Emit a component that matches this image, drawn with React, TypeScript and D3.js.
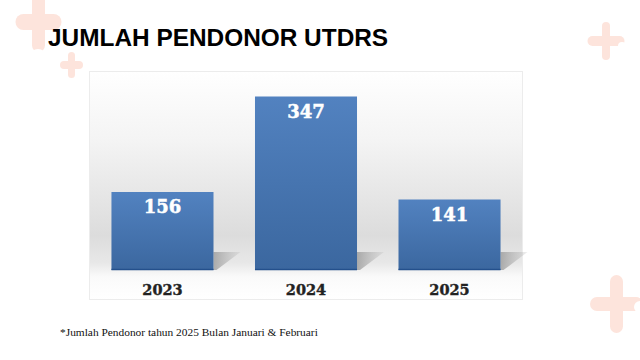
import React from "react";
import * as d3 from "d3";

const years = ["2023", "2024", "2025"];
const donors = [156, 347, 141];
const title = "JUMLAH PENDONOR UTDRS";
const footnote = "*Jumlah Pendonor tahun 2025 Bulan Januari & Februari";

const W = 640;
const H = 360;
const box = { x: 89.5, y: 71.5, w: 433, h: 228 };
const baseY = 270;

export default function App() {
  const x = d3
    .scaleBand<string>()
    .domain(years)
    .range([box.x, box.x + box.w])
    .paddingInner(0.289)
    .paddingOuter(0.153);
  const y = d3.scaleLinear().domain([0, 400]).range([baseY, baseY - 200]);

  const pink = "#fde4dc";

  const cross = (cx: number, cy: number, vw: number, vh: number, hw: number, hh: number, key: string) => (
    <g key={key} fill={pink}>
      <rect x={cx - vw / 2} y={cy - vh / 2} width={vw} height={vh} rx={vw / 2} />
      <rect x={cx - hw / 2} y={cy - hh / 2} width={hw} height={hh} rx={hh / 2} />
    </g>
  );

  return (
    <svg
      width={W}
      height={H}
      style={{ position: "absolute", left: 0, top: 0, background: "#fff" }}
    >
      <defs>
        <linearGradient id="bg" x1="0" y1="0" x2="0" y2="1">
          <stop offset="0" stopColor="#ffffff" />
          <stop offset="0.3" stopColor="#f4f4f4" />
          <stop offset="0.72" stopColor="#dcdcdc" />
          <stop offset="0.84" stopColor="#e8e8e8" />
          <stop offset="0.9" stopColor="#fafafa" />
          <stop offset="1" stopColor="#ffffff" />
        </linearGradient>
        <linearGradient id="bar" x1="0" y1="0" x2="0" y2="1">
          <stop offset="0" stopColor="#5282c0" />
          <stop offset="1" stopColor="#3b679f" />
        </linearGradient>
        <linearGradient id="shadow" x1="0" y1="0" x2="1" y2="0">
          <stop offset="0" stopColor="#9a9a9a" stopOpacity="0.8" />
          <stop offset="1" stopColor="#b0b0b0" stopOpacity="0.2" />
        </linearGradient>
      </defs>

      {/* decorations */}
      {cross(38.5, 22, 13, 60, 46, 16, "c1")}
      <circle cx={38} cy={57} r={8} fill="#fff" />
      {cross(71.5, 65, 7, 26, 23, 8, "c2")}
      {cross(606, 41, 8, 38, 37, 10, "c3")}
      <circle cx={622} cy={46} r={4} fill="#fff" />
      {cross(616.5, 304, 13, 58, 53, 14, "c4")}
      <circle cx={640} cy={307} r={6} fill="#fff" />

      <text
        x={48}
        y={46}
        fontFamily="'Liberation Sans', Arial, sans-serif"
        fontWeight="bold"
        fontSize={24.4}
        fill="#000"
      >
        {title}
      </text>

      <rect
        x={box.x}
        y={box.y}
        width={box.w}
        height={box.h}
        fill="url(#bg)"
        stroke="#ececec"
        strokeWidth={1}
      />

      {years.map((yr, i) => {
        const x0 = x(yr)!;
        const bw = x.bandwidth();
        const x1 = x0 + bw;
        const top = y(donors[i]);
        const pts = [
          [x1, baseY - 18],
          [x1 + 27, baseY - 18],
          [x1 + 3, baseY],
          [x1, baseY],
        ]
          .map((p) => p.join(","))
          .join(" ");
        return (
          <g key={yr}>
            <polygon points={pts} fill="url(#shadow)" />
            <rect x={x0} y={top} width={bw} height={baseY - top} fill="url(#bar)" />
            <line x1={x0} x2={x1} y1={baseY - 0.5} y2={baseY - 0.5} stroke="#24508c" strokeWidth={1.5} />
            <text
              x={x0 + bw / 2}
              y={top + 21}
              textAnchor="middle"
              fontFamily="'DejaVu Serif', serif"
              fontWeight="bold"
              fontSize={18}
              fill="#fff"
              stroke="#fff"
              strokeWidth={0.5}
            >
              {donors[i]}
            </text>
            <text
              x={x0 + bw / 2}
              y={295}
              textAnchor="middle"
              fontFamily="'DejaVu Serif', serif"
              fontWeight="bold"
              fontSize={14.5}
              fill="#222"
              stroke="#222"
              strokeWidth={0.4}
            >
              {yr}
            </text>
          </g>
        );
      })}

      <text
        x={60}
        y={336}
        fontFamily="'Liberation Serif', 'Times New Roman', serif"
        fontSize={11.4}
        fill="#111"
      >
        {footnote}
      </text>
    </svg>
  );
}
